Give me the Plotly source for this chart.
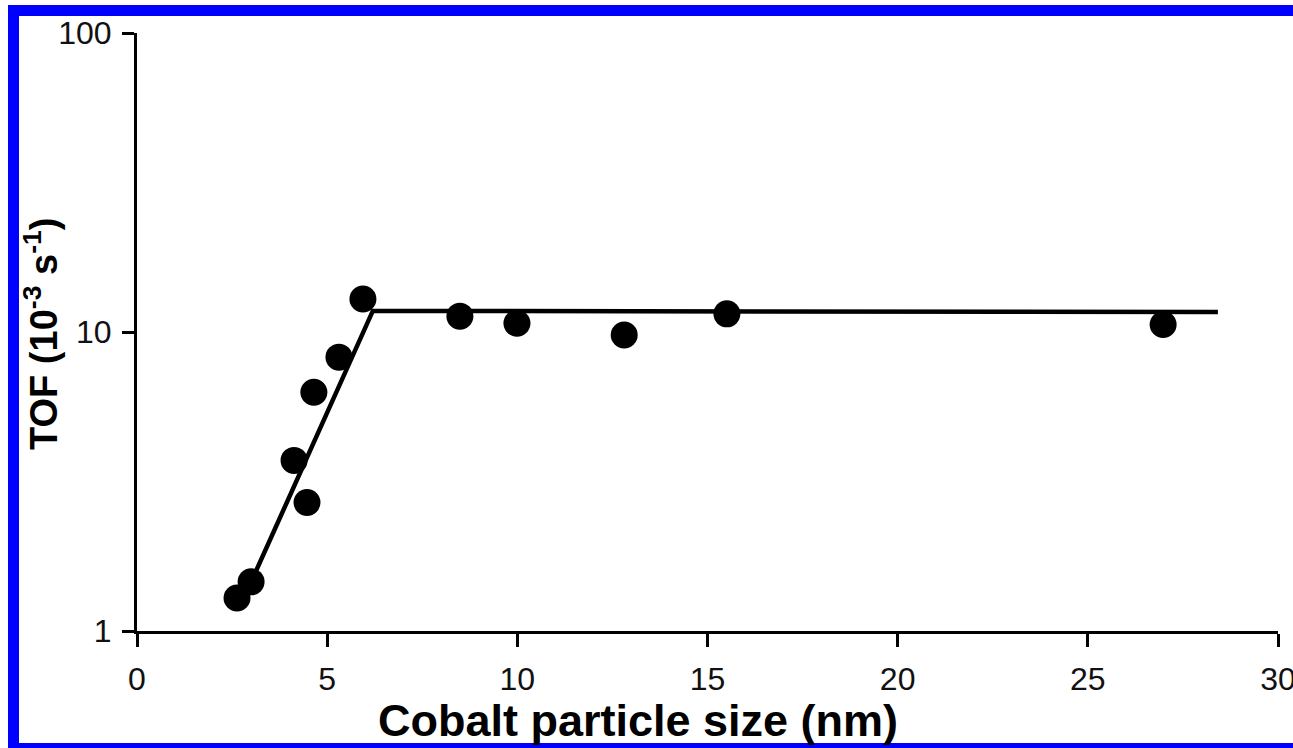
import plotly.graph_objects as go

# Measured turnover frequency vs cobalt particle size
size_nm = [2.63, 3.00, 4.13, 4.47, 4.65, 5.31, 5.94, 8.49, 9.99, 12.81, 15.51, 26.98]
tof = [1.29, 1.46, 3.72, 2.69, 6.29, 8.24, 12.9, 11.3, 10.7, 9.77, 11.5, 10.6]

# Guide line: linear rise on log scale, then plateau
fit_x = [2.97, 6.2, 28.42]
fit_y = [1.43, 11.76, 11.67]

x_ticks = [0, 5, 10, 15, 20, 25, 30]
y_ticks = [1, 10, 100]

W, H = 1293, 748
L, R, T, B = 137, 1278, 33, 631  # plot area in pixels


def px(x):
    return (x - L) / (R - L)


def py(y):
    return (B - y) / (B - T)


TICK_FONT = dict(family="Arial, Liberation Sans, sans-serif", size=32, color="#111")
XTITLE_FONT = dict(family="Arial, Liberation Sans, sans-serif", size=45, color="#000")
YTITLE_FONT = dict(family="Arial, Liberation Sans, sans-serif", size=38, color="#000")

fig = go.Figure()
fig.add_trace(go.Scatter(
    x=fit_x, y=fit_y, mode="lines",
    line=dict(color="black", width=4.5), hoverinfo="skip", showlegend=False,
))
fig.add_trace(go.Scatter(
    x=size_nm, y=tof, mode="markers",
    marker=dict(color="black", size=27, line=dict(width=0)), showlegend=False,
))

fig.update_xaxes(
    range=[0, 30], tickvals=x_ticks, ticktext=[str(v) for v in x_ticks],
    showline=True, linecolor="black", linewidth=3, mirror=False,
    ticks="outside", ticklen=13, tickwidth=3, tickcolor="black",
    showgrid=False, zeroline=False, tickfont=TICK_FONT, ticklabelstandoff=5,
    ticklabeloverflow="allow", automargin=False,
)
fig.update_yaxes(
    type="log", range=[0, 2], tickvals=y_ticks, ticktext=[str(v) for v in y_ticks],
    showline=True, linecolor="black", linewidth=3, mirror=False,
    ticks="outside", ticklen=12, tickwidth=3, tickcolor="black",
    showgrid=False, zeroline=False, tickfont=TICK_FONT, ticklabelstandoff=4,
    ticklabeloverflow="allow", automargin=False,
)

annotations = [
    dict(text="<b>Cobalt particle size (nm)</b>", x=px(638), y=py(720),
         xref="paper", yref="paper", showarrow=False, font=XTITLE_FONT,
         xanchor="center", yanchor="middle"),
    dict(text="<b>TOF (10<sup>-3</sup> s<sup>-1</sup>)</b>", x=px(41), y=py(334),
         xref="paper", yref="paper", showarrow=False, font=YTITLE_FONT,
         textangle=-90, xanchor="center", yanchor="middle"),
]

# Blue frame around the figure (left, top, bottom edges)
frame = []
for x0, y0, x1, y1 in [(8, 5, 19, 748), (8, 5, W, 16), (8, 743, W, 748)]:
    frame.append(dict(type="rect", xref="paper", yref="paper",
                      x0=px(x0), x1=px(x1), y0=py(y1), y1=py(y0),
                      fillcolor="#0000ff", line=dict(width=0), layer="above"))

fig.update_layout(
    width=W, height=H,
    margin=dict(l=L, r=W - R, t=T, b=H - B, pad=0, autoexpand=False),
    plot_bgcolor="white", paper_bgcolor="white",
    annotations=annotations, shapes=frame, showlegend=False,
)

fig.write_html("out.html")
